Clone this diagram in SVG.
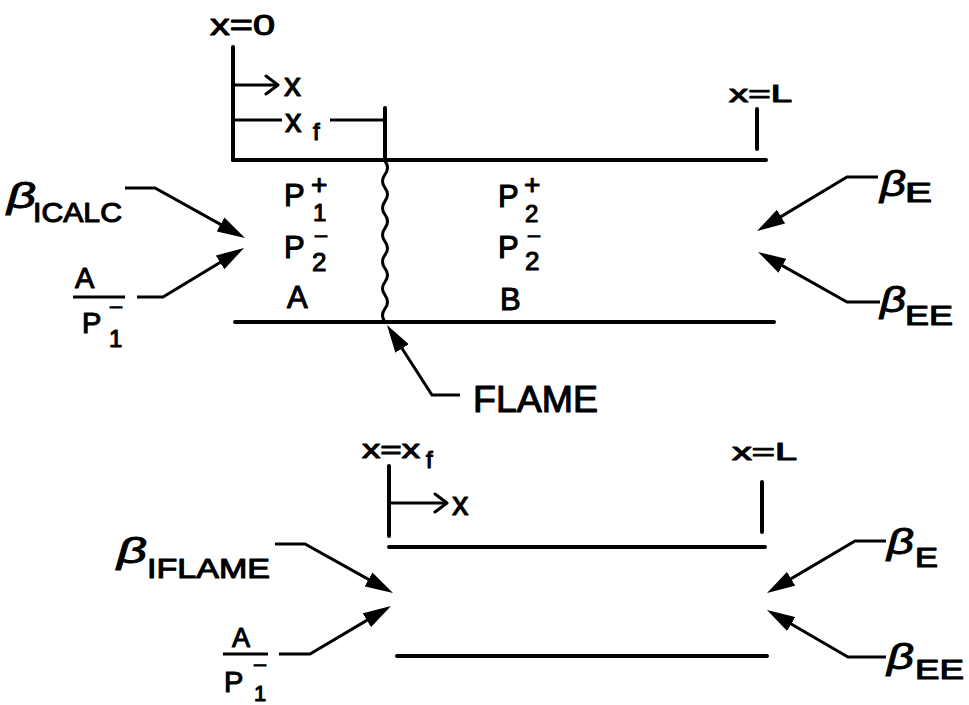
<svg xmlns="http://www.w3.org/2000/svg" width="969" height="705" viewBox="0 0 969 705">
<style>
.wall{stroke:#000;stroke-width:4;stroke-linecap:round;fill:none}
.tick{stroke:#000;stroke-width:4;stroke-linecap:round;fill:none}
.conn{stroke:#000;stroke-width:3;fill:none;stroke-linejoin:miter}
.t{font-family:"Liberation Sans",Arial,sans-serif;fill:#000;stroke:#000;stroke-width:1.1;stroke-linejoin:round}
.b{font-family:"Liberation Sans",Arial,sans-serif;font-style:italic;font-size:36px;fill:#000;stroke:#000;stroke-width:0.9}
</style>
<defs>
<marker id="head" markerUnits="userSpaceOnUse" viewBox="0 0 28 16" markerWidth="28" markerHeight="16" refX="20" refY="8" orient="auto">
<path d="M0,0 L28,8 L0,16 Z" fill="#000"/>
</marker>
<marker id="open" markerUnits="userSpaceOnUse" viewBox="0 0 16 22" markerWidth="16" markerHeight="22" refX="14" refY="11" orient="auto">
<path d="M2,2 L14,11 L2,20" fill="none" stroke="#000" stroke-width="3" stroke-linecap="round" stroke-linejoin="round"/>
</marker>
</defs>
<rect width="969" height="705" fill="#fff"/>

<!-- TOP DIAGRAM -->
<g id="top-duct">
<line class="wall" x1="233" y1="160" x2="766" y2="160"/>
<line class="wall" x1="235" y1="322" x2="774" y2="322"/>
<line class="tick" x1="233" y1="47" x2="233" y2="160"/>
<line class="tick" x1="385" y1="108" x2="385" y2="160"/>
<line class="tick" x1="757" y1="109" x2="757" y2="149"/>
</g>
<g id="top-x0">
<text class="t" x="210" y="35" font-size="30" textLength="65" lengthAdjust="spacingAndGlyphs">x=0</text>
</g>
<g id="top-xaxis">
<line class="conn" x1="233" y1="85" x2="278" y2="85" marker-end="url(#open)"/>
<text class="t" x="284" y="96" font-size="34">x</text>
</g>
<g id="top-xf">
<line class="conn" x1="233" y1="120" x2="282" y2="120"/>
<line class="conn" x1="330" y1="120" x2="385" y2="120"/>
<text class="t" x="285" y="132" font-size="33">x</text>
<text class="t" x="313" y="140" font-size="24">f</text>
</g>
<g id="top-xL">
<text class="t" x="729" y="102" font-size="24" textLength="63" lengthAdjust="spacingAndGlyphs">x=L</text>
</g>
<g id="flame">
<path d="M385,161 q5,6.71 0,13.42 t0,13.42 t0,13.42 t0,13.42 t0,13.42 t0,13.42 t0,13.42 t0,13.42 t0,13.42 t0,13.42 t0,13.42 t0,13.42" fill="none" stroke="#000" stroke-width="3"/>
</g>
<g id="region-A">
<text class="t" x="284" y="206" font-size="31">P</text>
<text class="t" x="311" y="194" font-size="28">+</text>
<text class="t" x="313" y="221" font-size="24">1</text>
<text class="t" x="284" y="258" font-size="31">P</text>
<text class="t" x="314" y="242" font-size="17" textLength="14" lengthAdjust="spacingAndGlyphs">−</text>
<text class="t" x="312" y="271" font-size="26">2</text>
<text class="t" x="287" y="308" font-size="31">A</text>
</g>
<g id="region-B">
<text class="t" x="498" y="207" font-size="31">P</text>
<text class="t" x="524" y="194" font-size="28">+</text>
<text class="t" x="525" y="222" font-size="24">2</text>
<text class="t" x="498" y="258" font-size="31">P</text>
<text class="t" x="527" y="242" font-size="17" textLength="14" lengthAdjust="spacingAndGlyphs">−</text>
<text class="t" x="525" y="270" font-size="26">2</text>
<text class="t" x="500" y="310" font-size="31">B</text>
</g>
<g id="top-beta-icalc">
<text class="b" x="7" y="208" textLength="29" lengthAdjust="spacingAndGlyphs">β</text>
<text class="t" x="33" y="222" font-size="27" textLength="89" lengthAdjust="spacingAndGlyphs">ICALC</text>
</g>
<g id="top-a-over-p1">
<text class="t" x="75" y="288" font-size="29">A</text>
<line x1="73" y1="297" x2="125" y2="297" stroke="#000" stroke-width="3"/>
<text class="t" x="82" y="333" font-size="29">P</text>
<text class="t" x="109" y="313" font-size="17" textLength="14" lengthAdjust="spacingAndGlyphs">−</text>
<text class="t" x="109" y="347" font-size="24">1</text>
</g>
<g id="top-beta-e">
<text class="b" x="880" y="196" textLength="26" lengthAdjust="spacingAndGlyphs">β</text>
<text class="t" x="905" y="202" font-size="27" textLength="27" lengthAdjust="spacingAndGlyphs">E</text>
</g>
<g id="top-beta-ee">
<text class="b" x="880" y="312" textLength="26" lengthAdjust="spacingAndGlyphs">β</text>
<text class="t" x="905" y="325" font-size="27" textLength="48" lengthAdjust="spacingAndGlyphs">EE</text>
</g>
<g id="flame-label">
<text class="t" x="473" y="412" font-size="36" textLength="125" lengthAdjust="spacingAndGlyphs">FLAME</text>
</g>

<!-- BOTTOM DIAGRAM -->
<g id="bottom-duct">
<line class="wall" x1="389" y1="547" x2="765" y2="547"/>
<line class="wall" x1="397" y1="656" x2="767" y2="656"/>
<line class="tick" x1="389" y1="466" x2="389" y2="536"/>
<line class="tick" x1="762" y1="482" x2="762" y2="532"/>
</g>
<g id="bottom-xxf">
<text class="t" x="362" y="458" font-size="26" textLength="58" lengthAdjust="spacingAndGlyphs">x=x</text>
<text class="t" x="426" y="468" font-size="24">f</text>
</g>
<g id="bottom-xaxis">
<line class="conn" x1="389" y1="503" x2="447" y2="503" marker-end="url(#open)"/>
<text class="t" x="452" y="515" font-size="33">x</text>
</g>
<g id="bottom-xL">
<text class="t" x="732" y="460" font-size="24" textLength="65" lengthAdjust="spacingAndGlyphs">x=L</text>
</g>
<g id="bottom-beta-iflame">
<text class="b" x="117" y="563" textLength="30" lengthAdjust="spacingAndGlyphs">β</text>
<text class="t" x="147" y="578" font-size="28" textLength="123" lengthAdjust="spacingAndGlyphs">IFLAME</text>
</g>
<g id="bottom-a-over-p1">
<text class="t" x="232" y="647" font-size="27">A</text>
<line x1="223" y1="654" x2="268" y2="654" stroke="#000" stroke-width="3"/>
<text class="t" x="224" y="692" font-size="29">P</text>
<text class="t" x="253" y="671" font-size="17" textLength="14" lengthAdjust="spacingAndGlyphs">−</text>
<text class="t" x="254" y="701" font-size="22">1</text>
</g>
<g id="bottom-beta-e">
<text class="b" x="887" y="554" textLength="27" lengthAdjust="spacingAndGlyphs">β</text>
<text class="t" x="915" y="567" font-size="27" textLength="23" lengthAdjust="spacingAndGlyphs">E</text>
</g>
<g id="bottom-beta-ee">
<text class="b" x="887" y="669" textLength="27" lengthAdjust="spacingAndGlyphs">β</text>
<text class="t" x="915" y="679" font-size="27" textLength="49" lengthAdjust="spacingAndGlyphs">EE</text>
</g>

<g id="connectors">
<polyline class="conn" points="125,188 155,188 238,234.1" marker-end="url(#head)"/>
<polyline class="conn" points="137,297 163,297 237.2,252.1" marker-end="url(#head)"/>
<polyline class="conn" points="878,177 847,177 763.9,226.9" marker-end="url(#head)"/>
<polyline class="conn" points="880,302 847,302 765,255.9" marker-end="url(#head)"/>
<polyline class="conn" points="460,395 432,395 391.3,331.7" marker-end="url(#head)"/>
<polyline class="conn" points="275,544 305,544 386,589.1" marker-end="url(#head)"/>
<polyline class="conn" points="279,654 310,654 384.1,610.1" marker-end="url(#head)"/>
<polyline class="conn" points="886,541 855,541 773.9,588.9" marker-end="url(#head)"/>
<polyline class="conn" points="886,657 848,657 773.9,614" marker-end="url(#head)"/>
</g>
</svg>
